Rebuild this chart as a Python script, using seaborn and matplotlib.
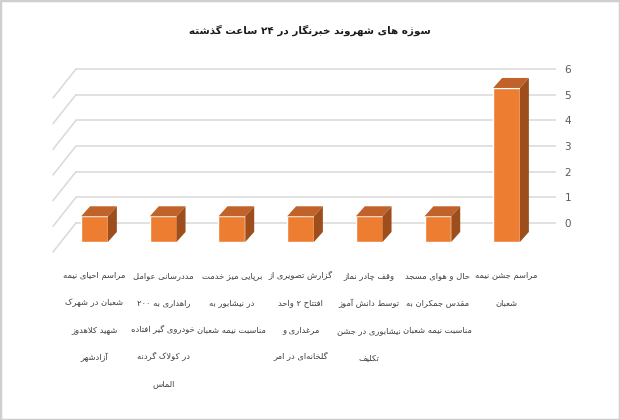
import re
import matplotlib
matplotlib.use("Agg")
import matplotlib.pyplot as plt
from matplotlib.patches import Polygon, Rectangle
import pandas as pd
import seaborn as sns

title = "سوژه های شهروند خبرنگار در ۲۴ ساعت گذشته"
# categories in reading order (right to left in the chart)
categories = [
    "مراسم جشن نیمه\nشعبان",
    "حال و هوای مسجد\nمقدس جمکران به\nمناسبت نیمه شعبان",
    "وقف چادر نماز\nتوسط دانش آموز\nنیشابوری در جشن\nتکلیف",
    "گزارش تصویری از\nافتتاح ۲ واحد\nمرغداری و\nگلخانه‌ای در امر",
    "برپایی میز خدمت\nدر نیشابور به\nمناسبت نیمه شعبان",
    "مددرسانی عوامل\nراهداری به ۲۰۰\nخودروی گیر افتاده\nدر کولاک گردنه\nالماس",
    "مراسم احیای نیمه\nشعبان در شهرک\nشهید کلاهدوز\nآزادشهر",
]
counts = [6, 1, 1, 1, 1, 1, 1]
y_ticks = [0, 1, 2, 3, 4, 5, 6]

FRONT = "#ED7D31"
TOP = "#C0622A"
SIDE = "#9E4E1C"
GRID = "#D9D9D9"

# fake 3d: depth offsets in data units
DX, DY = 0.13, 0.39
DROP = -0.74

# matplotlib has no arabic shaping, so do it by hand
# (isolated form codepoint, 2 = joins right only, 4 = joins both sides)
FORMS = {
    "آ": (0xFE81, 2), "أ": (0xFE83, 2), "ؤ": (0xFE85, 2), "إ": (0xFE87, 2),
    "ئ": (0xFE89, 4), "ا": (0xFE8D, 2), "ب": (0xFE8F, 4), "ة": (0xFE93, 2),
    "ت": (0xFE95, 4), "ث": (0xFE99, 4), "ج": (0xFE9D, 4), "ح": (0xFEA1, 4),
    "خ": (0xFEA5, 4), "د": (0xFEA9, 2), "ذ": (0xFEAB, 2), "ر": (0xFEAD, 2),
    "ز": (0xFEAF, 2), "س": (0xFEB1, 4), "ش": (0xFEB5, 4), "ص": (0xFEB9, 4),
    "ض": (0xFEBD, 4), "ط": (0xFEC1, 4), "ظ": (0xFEC5, 4), "ع": (0xFEC9, 4),
    "غ": (0xFECD, 4), "ف": (0xFED1, 4), "ق": (0xFED5, 4), "ل": (0xFEDD, 4),
    "م": (0xFEE1, 4), "ن": (0xFEE5, 4), "ه": (0xFEE9, 4), "و": (0xFEED, 2),
    "پ": (0xFB56, 4), "چ": (0xFB7A, 4), "ژ": (0xFB8A, 2), "ک": (0xFB8E, 4),
    "گ": (0xFB92, 4), "ی": (0xFBFC, 4),
}
LAM_ALEF = {"ا": 0xFEFB, "آ": 0xFEF5}


def shape_line(line):
    out = []
    i = 0
    while i < len(line):
        c = line[i]
        if c not in FORMS:
            if c != "\u200c":
                out.append(c)
            i += 1
            continue
        prev = line[i - 1] if i > 0 else ""
        nxt = line[i + 1] if i + 1 < len(line) else ""
        joins_prev = prev in FORMS and FORMS[prev][1] == 4
        if c == "ل" and nxt in LAM_ALEF:
            out.append(chr(LAM_ALEF[nxt] + int(joins_prev)))
            i += 2
            continue
        base, n = FORMS[c]
        joins_next = n == 4 and nxt in FORMS
        if joins_prev and joins_next:
            form = 3
        elif joins_next:
            form = 2
        elif joins_prev:
            form = 1
        else:
            form = 0
        out.append(chr(base + form))
        i += 1
    text = "".join(out)[::-1]
    return re.sub(r"[0-9\u06f0-\u06f9]+", lambda m: m.group()[::-1], text)


def shape(s):
    return "\n".join(shape_line(l) for l in s.split("\n"))


sns.set_theme(style="white")
plt.rcParams["font.family"] = ["DejaVu Sans"]

labels = [shape(c) for c in categories]
df = pd.DataFrame({"category": labels, "count": counts})

fig = plt.figure(figsize=(6.2, 4.2), dpi=100)
ax = fig.add_axes([0.0805, 0.3836, 0.8163, 0.4705])

sns.barplot(data=df, x="category", y="count", order=labels[::-1],
            color=FRONT, saturation=1, width=0.39, ax=ax, zorder=3)

# back wall gridlines + left wall diagonals
x_left, x_right = -0.27, 6.72
for t in y_ticks:
    ax.plot([x_left, x_right], [t, t], color=GRID, lw=1.1, zorder=1)
    ax.plot([x_left - 0.335, x_left], [t - 1.13, t], color=GRID, lw=1.1, zorder=1)

for p in ax.patches:
    p.set_y(p.get_y() + DROP)
    x0, y0 = p.get_x(), p.get_y()
    x1, y1 = x0 + p.get_width(), y0 + p.get_height()
    top = [(x0, y1), (x1, y1), (x1 + DX, y1 + DY), (x0 + DX, y1 + DY)]
    side = [(x1, y0), (x1 + DX, y0 + DY), (x1 + DX, y1 + DY), (x1, y1)]
    ax.add_patch(Polygon(top, closed=True, facecolor=TOP, edgecolor="none", zorder=3))
    ax.add_patch(Polygon(side, closed=True, facecolor=SIDE, edgecolor="none", zorder=3))

ax.set_xlim(-0.65, x_right)
ax.set_ylim(-1.4, 6.3)
ax.set_yticks(y_ticks)
ax.yaxis.tick_right()
ax.tick_params(axis="y", length=0, pad=6, labelsize=7.5, colors="#595959")
ax.tick_params(axis="x", length=0, pad=9, labelsize=6, colors="#404040")
for lbl in ax.get_xticklabels():
    lbl.set_linespacing(3.55)
ax.set_xlabel("")
ax.set_ylabel("")
for s in ax.spines.values():
    s.set_visible(False)

fig.text(0.5, 1 - 30 / 420, shape(title), ha="center", va="center",
         fontsize=7.5, fontweight="bold", color="#1a1a1a")
# thin grey frame around the picture
fig.patches.append(Rectangle((0, 0), 1, 1, transform=fig.transFigure, fill=False,
                             edgecolor="#CFCFCF", lw=2.5))

fig.savefig("out.png", dpi=100)
